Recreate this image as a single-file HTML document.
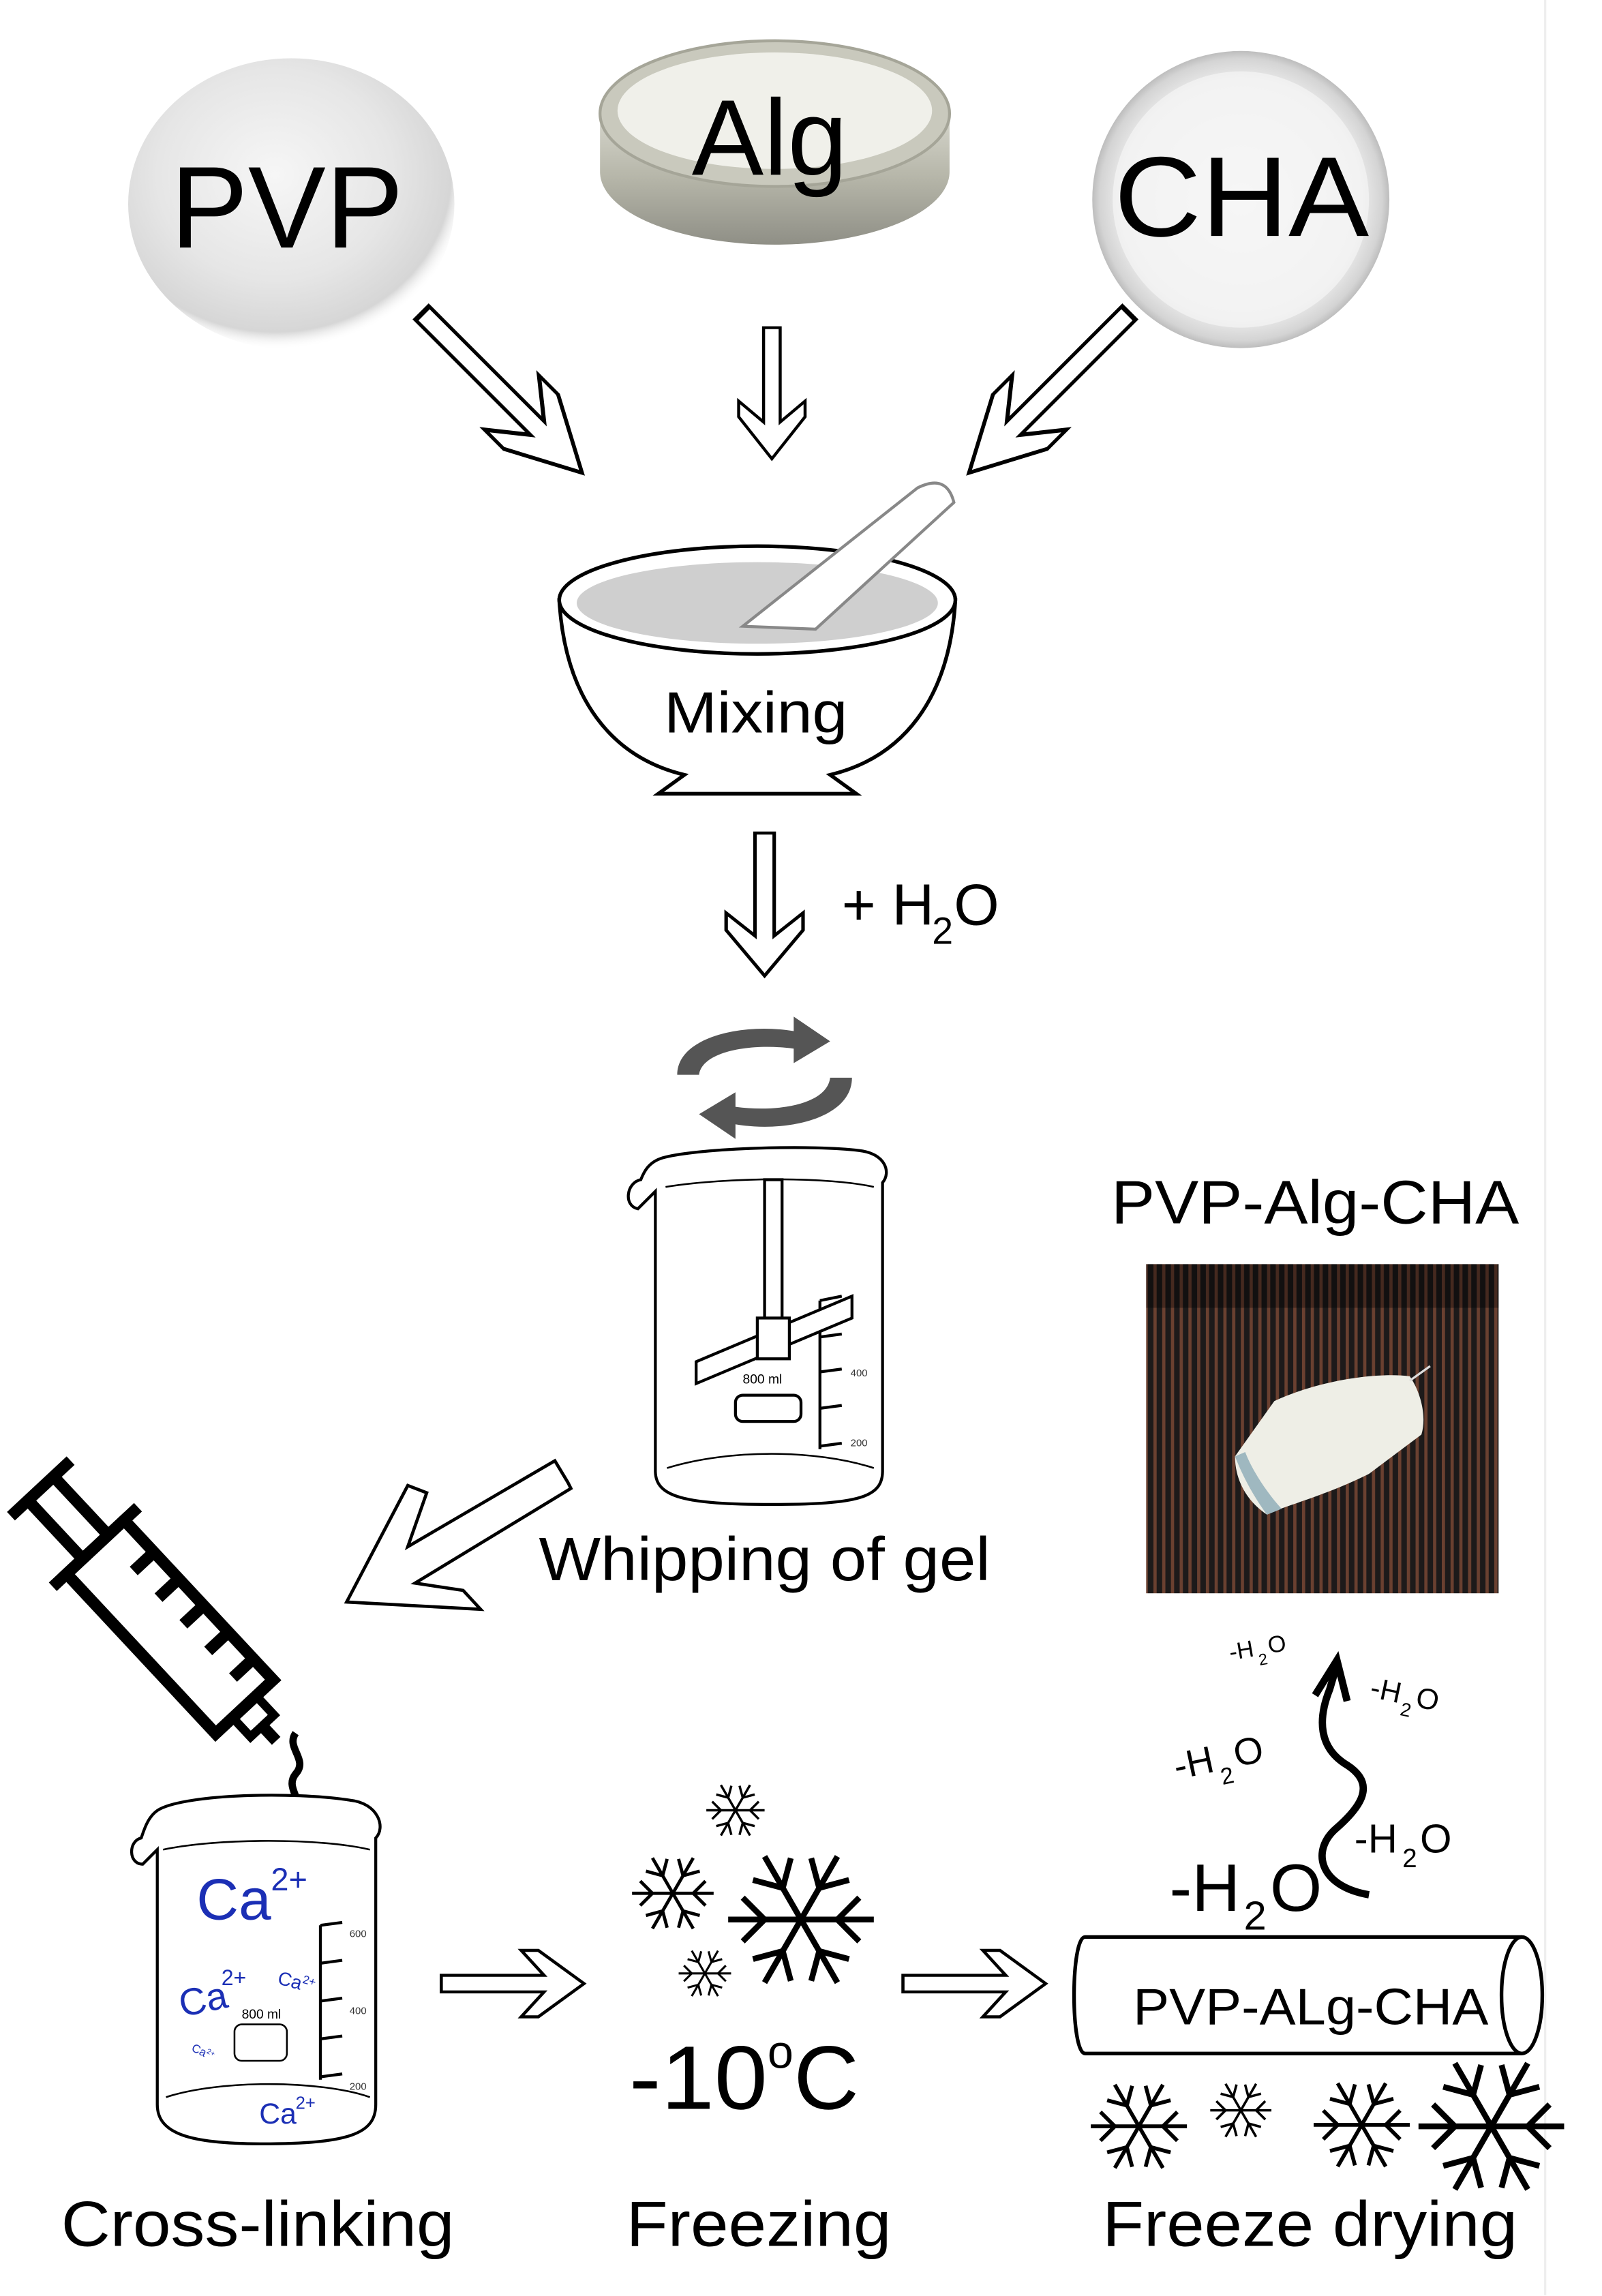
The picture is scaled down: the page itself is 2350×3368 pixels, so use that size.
<!DOCTYPE html>
<html><head><meta charset="utf-8"><style>
html,body{margin:0;padding:0;background:#fff}
svg{display:block}
text{font-family:"Liberation Sans",sans-serif}
</style></head><body>
<svg width="2350" height="3368" viewBox="0 0 1100 1576.5" preserveAspectRatio="none" xmlns="http://www.w3.org/2000/svg">
<defs>
<radialGradient id="pvp" cx="0.45" cy="0.4" r="0.6">
<stop offset="0" stop-color="#f6f6f6"/><stop offset="0.6" stop-color="#e6e6e6"/><stop offset="0.9" stop-color="#d6d6d6"/><stop offset="1" stop-color="#fff" stop-opacity="0"/>
</radialGradient>
<linearGradient id="tin" x1="0" y1="0" x2="0" y2="1">
<stop offset="0" stop-color="#d6d6cc"/><stop offset="0.5" stop-color="#b5b5a8"/><stop offset="1" stop-color="#8f8f86"/>
</linearGradient>
<radialGradient id="cha" cx="0.5" cy="0.5" r="0.5">
<stop offset="0" stop-color="#f8f8f8"/><stop offset="0.8" stop-color="#ececec"/><stop offset="0.95" stop-color="#d4d4d4"/><stop offset="1" stop-color="#bdbdbd"/>
</radialGradient>
<pattern id="stripes" width="6" height="10" patternUnits="userSpaceOnUse">
<rect width="6" height="10" fill="#1d1a1a"/><rect x="0" width="2.2" height="10" fill="#6a4030"/>
</pattern>
<g id="arm"><line x1="0" y1="0" x2="50" y2="0"/><line x1="25" y1="0" x2="40" y2="-15"/><line x1="25" y1="0" x2="40" y2="15"/></g>
<g id="sf" fill="none" stroke="#000" stroke-width="4">
<use href="#arm"/><use href="#arm" transform="rotate(60)"/><use href="#arm" transform="rotate(120)"/><use href="#arm" transform="rotate(180)"/><use href="#arm" transform="rotate(240)"/><use href="#arm" transform="rotate(300)"/>
</g>
<path id="ha" d="M0,-6 L72,-6 L56,-24 L68,-24 L100,0 L68,24 L56,24 L72,6 L0,6 Z" fill="#fff" stroke="#000" stroke-width="2.2" stroke-linejoin="miter"/>
</defs>

<line x1="1061" y1="0" x2="1061" y2="1576" stroke="#eee" stroke-width="1.5"/>

<!-- PVP powder -->
<ellipse cx="200" cy="140" rx="112" ry="100" fill="url(#pvp)"/>
<text x="117" y="170" font-size="80" textLength="160" lengthAdjust="spacingAndGlyphs">PVP</text>

<!-- Alg tin -->
<path d="M412,78 L412,118 A120,50 0 0 0 652,118 L652,78 Z" fill="url(#tin)"/>
<ellipse cx="532" cy="78" rx="120" ry="50" fill="#c9c9bd" stroke="#a5a598" stroke-width="2"/>
<ellipse cx="532" cy="76" rx="108" ry="40" fill="#f0f0ea"/>
<text x="475" y="120" font-size="74">Alg</text>

<!-- CHA dish -->
<circle cx="852" cy="137" r="102" fill="url(#cha)"/>
<circle cx="852" cy="137" r="88" fill="#f5f5f5" opacity="0.7"/>
<text x="765" y="162" font-size="78" textLength="175" lengthAdjust="spacingAndGlyphs">CHA</text>

<use href="#ha" transform="translate(290,215) rotate(45) scale(1.55,1.1)"/>
<use href="#ha" transform="translate(530,225) rotate(90) scale(0.9,0.95)"/>
<use href="#ha" transform="translate(775,215) rotate(135) scale(1.55,1.1)"/>

<!-- mortar -->
<path d="M384,412 C388,480 420,520 470,532 L452,545 L588,545 L570,532 C620,520 652,480 656,412 Z" fill="#fff" stroke="#000" stroke-width="2.5"/>
<ellipse cx="520" cy="412" rx="136" ry="37" fill="#fff" stroke="#000" stroke-width="2.5"/>
<ellipse cx="520" cy="414" rx="124" ry="28" fill="#cfcfcf"/>
<path d="M510,430 L630,335 Q650,325 655,345 L560,432 Z" fill="#fff" stroke="#888" stroke-width="2"/>
<text x="456" y="503" font-size="40" textLength="126" lengthAdjust="spacingAndGlyphs">Mixing</text>

<use href="#ha" transform="translate(525,572) rotate(90) scale(0.98,1.1)"/>
<text x="578" y="635" font-size="40">+ H</text><text x="640" y="648" font-size="26">2</text><text x="655" y="635" font-size="40">O</text>

<!-- rotation icon -->
<g fill="#555">
<path d="M465,738 C465,712 510,702 545,708 L545,698 L570,715 L545,730 L545,720 C515,716 482,722 480,738 Z"/>
<path d="M585,740 C585,768 540,778 505,772 L505,782 L480,765 L505,750 L505,760 C535,764 568,758 570,740 Z"/>
</g>

<!-- beaker 1 -->
<g fill="none" stroke="#000" stroke-width="2">
<path d="M440,810 C430,812 428,828 438,830 L450,818 L450,1010 C450,1028 470,1033 530,1033 C590,1033 606,1028 606,1010 L606,812 C612,805 608,792 590,790 C560,786 480,788 455,795 C445,798 442,805 440,810 Z" fill="#fff"/>
<path d="M457,815 C500,808 570,808 600,815" stroke-width="1.2"/>
<path d="M458,1008 C500,995 560,995 600,1008" stroke-width="1.2"/>
<line x1="563" y1="893" x2="563" y2="995"/>
<line x1="563" y1="893" x2="578" y2="890"/><line x1="563" y1="918" x2="578" y2="916"/><line x1="563" y1="942" x2="578" y2="940"/><line x1="563" y1="967" x2="578" y2="965"/><line x1="563" y1="993" x2="578" y2="991"/>
<rect x="505" y="958" width="45" height="18" rx="5"/>
</g>
<text x="510" y="950" font-size="9">800 ml</text>
<text x="584" y="945" font-size="7" fill="#333">400</text>
<text x="584" y="993" font-size="7" fill="#333">200</text>
<rect x="525" y="810" width="12" height="105" fill="#fff" stroke="#000" stroke-width="2"/>
<path d="M478,935 L585,890 L585,905 L478,950 Z" fill="#fff" stroke="#000" stroke-width="2"/>
<rect x="520" y="905" width="22" height="28" fill="#fff" stroke="#000" stroke-width="2"/>
<text x="370" y="1085" font-size="42" textLength="310" lengthAdjust="spacingAndGlyphs">Whipping of gel</text>

<!-- product photo -->
<text x="763" y="840" font-size="42" textLength="280" lengthAdjust="spacingAndGlyphs">PVP-Alg-CHA</text>
<rect x="787" y="868" width="242" height="226" fill="url(#stripes)"/>
<rect x="787" y="868" width="242" height="30" fill="#000" opacity="0.35"/>
<path d="M848,1000 L875,962 C905,948 945,942 968,945 C975,955 980,972 976,985 L940,1012 C908,1028 878,1035 870,1040 C855,1030 848,1015 848,1000 Z" fill="#eeeee6"/>
<path d="M848,1000 C855,1018 864,1032 870,1040 L880,1036 C870,1025 860,1010 855,997 Z" fill="#9fb8c0"/>
<line x1="968" y1="948" x2="982" y2="938" stroke="#ddd" stroke-width="1.5"/>

<!-- big diagonal arrow -->
<path d="M390,1018 L381,1003 L280,1062 L293,1025 L280,1020 L238,1100 L330,1105 L318,1092 L285,1087 L392,1022 Z" fill="#fff" stroke="#000" stroke-width="2.2"/>

<!-- syringe -->
<g transform="translate(28,1022) rotate(47)" stroke="#000" stroke-width="8" fill="none" stroke-linecap="butt">
<line x1="0" y1="-28" x2="0" y2="28"/>
<line x1="0" y1="-12" x2="55" y2="-12"/><line x1="0" y1="12" x2="55" y2="12"/>
<line x1="55" y1="-40" x2="55" y2="40"/>
<rect x="55" y="-27" width="150" height="54"/>
<line x1="85" y1="-27" x2="85" y2="-8"/><line x1="110" y1="-27" x2="110" y2="-8"/><line x1="135" y1="-27" x2="135" y2="-8"/><line x1="160" y1="-27" x2="160" y2="-8"/><line x1="185" y1="-27" x2="185" y2="-8"/>
<rect x="205" y="-11" width="18" height="22" stroke-width="6"/>
<line x1="223" y1="0" x2="237" y2="0" stroke-width="8"/>
</g>
<path d="M203,1190 C196,1200 212,1208 203,1218 C195,1228 210,1236 202,1246 C196,1254 204,1260 203,1266" fill="none" stroke="#000" stroke-width="5"/>

<!-- beaker 2 -->
<g fill="none" stroke="#000" stroke-width="2">
<path d="M97,1262 C88,1264 88,1280 98,1280 L108,1270 L108,1445 C108,1465 130,1472 180,1472 C240,1472 258,1465 258,1445 L258,1262 C265,1255 260,1238 240,1236 C200,1230 130,1232 110,1242 C102,1246 99,1256 97,1262 Z" fill="#fff"/>
<path d="M112,1270 C150,1262 220,1262 254,1270" stroke-width="1.2"/>
<path d="M114,1440 C150,1428 220,1428 254,1440" stroke-width="1.2"/>
<line x1="220" y1="1322" x2="220" y2="1428"/>
<line x1="220" y1="1322" x2="235" y2="1320"/><line x1="220" y1="1348" x2="235" y2="1346"/><line x1="220" y1="1374" x2="235" y2="1372"/><line x1="220" y1="1400" x2="235" y2="1398"/><line x1="220" y1="1426" x2="235" y2="1424"/>
<rect x="161" y="1390" width="36" height="25" rx="5" stroke-width="1.2"/>
</g>
<text x="166" y="1386" font-size="9">800 ml</text>
<text x="240" y="1330" font-size="7" fill="#333">600</text>
<text x="240" y="1383" font-size="7" fill="#333">400</text>
<text x="240" y="1435" font-size="7" fill="#333">200</text>
<g fill="#1b2fb5">
<text x="135" y="1318" font-size="40">Ca</text><text x="186" y="1298" font-size="22">2+</text>
<text x="125" y="1385" font-size="26" transform="rotate(-12 125 1385)">Ca</text><text x="152" y="1363" font-size="15">2+</text>
<text x="190" y="1362" font-size="13" transform="rotate(15 190 1362)">Ca<tspan font-size="8" dy="-5">2+</tspan></text>
<text x="131" y="1408" font-size="8" transform="rotate(25 131 1408)">Ca<tspan font-size="5" dy="-3">2+</tspan></text>
<text x="178" y="1458" font-size="20">Ca</text><text x="203" y="1448" font-size="12">2+</text>
</g>

<use href="#ha" transform="translate(303,1362) scale(0.98,0.95)"/>
<use href="#ha" transform="translate(620,1362) scale(0.98,0.95)"/>

<!-- freezing snowflakes -->
<use href="#sf" transform="translate(505,1243) scale(0.4)"/>
<use href="#sf" transform="translate(462,1300) scale(0.56)"/>
<use href="#sf" transform="translate(550,1318) scale(1.0)"/>
<use href="#sf" transform="translate(484,1355) scale(0.36)"/>
<text x="432" y="1448" font-size="62" textLength="95" lengthAdjust="spacingAndGlyphs">-10</text><text x="527" y="1420" font-size="32">o</text><text x="545" y="1448" font-size="62">C</text>

<!-- cylinder -->
<path d="M1045,1330 L745,1330 C735,1330 735,1410 745,1410 L1045,1410" fill="#fff" stroke="#000" stroke-width="2.5"/>
<ellipse cx="1045" cy="1370" rx="14" ry="40" fill="#fff" stroke="#000" stroke-width="2.5"/>
<text x="778" y="1390" font-size="35" textLength="244" lengthAdjust="spacingAndGlyphs">PVP-ALg-CHA</text>

<!-- -H2O labels -->
<text x="803" y="1312" font-size="46">-H</text><text x="854" y="1325" font-size="28">2</text><text x="872" y="1312" font-size="46">O</text>
<text x="930" y="1272" font-size="28">-H</text><text x="963" y="1282" font-size="18">2</text><text x="975" y="1272" font-size="28">O</text>
<g transform="rotate(-12 808 1222)"><text x="808" y="1222" font-size="26">-H</text><text x="838" y="1232" font-size="16">2</text><text x="850" y="1222" font-size="26">O</text></g>
<g transform="rotate(12 940 1165)"><text x="940" y="1165" font-size="20">-H</text><text x="963" y="1173" font-size="13">2</text><text x="972" y="1165" font-size="20">O</text></g>
<g transform="rotate(-10 845 1140)"><text x="845" y="1140" font-size="16">-H</text><text x="864" y="1147" font-size="11">2</text><text x="872" y="1140" font-size="16">O</text></g>
<path d="M940,1301 C905,1295 900,1270 918,1255 C935,1240 945,1225 925,1212 C905,1200 905,1180 913,1160 L918,1143" fill="none" stroke="#000" stroke-width="5"/>
<path d="M903,1164 L918,1140 L925,1168" fill="none" stroke="#000" stroke-width="5" stroke-linejoin="miter"/>

<!-- freeze drying snowflakes -->
<use href="#sf" transform="translate(782,1460) scale(0.66)"/>
<use href="#sf" transform="translate(852,1449) scale(0.42)"/>
<use href="#sf" transform="translate(935,1459) scale(0.66)"/>
<use href="#sf" transform="translate(1024,1460) scale(1.0)"/>

<!-- bottom labels -->
<text x="42" y="1542" font-size="44" textLength="270" lengthAdjust="spacingAndGlyphs">Cross-linking</text>
<text x="430" y="1542" font-size="44" textLength="182" lengthAdjust="spacingAndGlyphs">Freezing</text>
<text x="757" y="1542" font-size="44" textLength="285" lengthAdjust="spacingAndGlyphs">Freeze drying</text>
</svg>
</body></html>
